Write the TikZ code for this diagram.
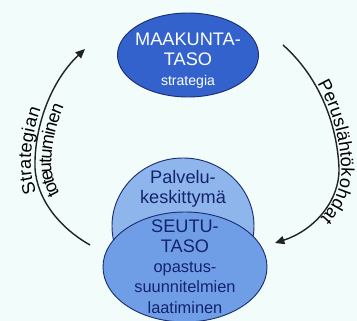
\documentclass[tikz,border=0pt]{standalone}
\usepackage{fontspec}
\setmainfont{Liberation Sans}
\usepackage{tikz}
\usetikzlibrary{shapes.geometric, arrows.meta, positioning, decorations.text}
\usepackage{xcolor}

\definecolor{bgcol}{HTML}{F2FCFA}
\definecolor{topfill}{HTML}{3362CC}
\definecolor{edgecol}{HTML}{1C2F72}
\definecolor{palfill}{HTML}{8FB6EC}
\definecolor{seufill}{HTML}{6F9EE6}
\definecolor{navytext}{HTML}{14236E}
\definecolor{arccol}{HTML}{222222}

\newcommand\capsfont{\fontsize{15.5}{17.2}\selectfont}
\newcommand\smallfont{\fontsize{14}{17.2}\selectfont}
\newcommand\arcfont{\fontsize{15.5}{18}\selectfont}

\begin{document}
\begin{tikzpicture}[
    x=0.03cm, y=-0.03cm,
    % Node styles
    level/.style={ellipse, draw=edgecol, line width=0.8pt, inner sep=0pt},
    toplevel/.style={level, fill=topfill, minimum width=4.23cm, minimum height=2.52cm},
    centre/.style={level, fill=palfill, minimum width=4.26cm, minimum height=4.08cm},
    region/.style={level, fill=seufill, minimum width=4.92cm, minimum height=3.30cm},
    leveltext/.style={align=center, inner sep=0pt, text=navytext, font=\capsfont},
    arc/.style={line width=1.2pt, draw=arccol, -{Triangle[length=8pt, width=7pt]}},
]

% background
\fill[bgcol] (0,0) rectangle (357,321);
\useasboundingbox (0,0) rectangle (357,321);

% ============================================================================
% LEVELS
% ============================================================================
\node[toplevel] (maakunta) at (188,55) {};
\node[leveltext, text=white] (maakuntatxt) at (188,61) {MAAKUNTA-\\TASO\\\fontsize{12}{17.2}\selectfont strategia};

\node[centre] (palvelu) at (183,226) {};
\node[leveltext] (palvelutxt) at (183,188.5) {Palvelu-\\keskittymä};

\node[region] (seutu) at (185,267) {};
\node[leveltext] (seututxt) at (185,266.5) {SEUTU-\\TASO\\\smallfont opastus-\\\smallfont suunnitelmien\\\smallfont laatiminen};

% ============================================================================
% ARCS
% ============================================================================
\coordinate (lfoot) at (90,245);
\coordinate (lwest) at (35,168);
\coordinate (ltip) at (85,49);
\coordinate (rtop) at (283,45);
\coordinate (reast) at (339,168);
\coordinate (rtip) at (275,243);

% Strategian toteutuminen (upwards)
\draw[arc] (lfoot) .. controls (60,228) and (37,200) .. (lwest) .. controls (34,125) and (52,80) .. (ltip);
\path[decorate, decoration={text along path, text align=center, raise=3.5pt, text={|\arcfont|Strategian}}]
    (lfoot) .. controls (60,228) and (37,200) .. (lwest) .. controls (34,125) and (52,80) .. (ltip);
\path[decorate, decoration={text along path, text align=center, raise=-14pt, text={|\arcfont|toteutuminen}}]
    (lfoot) .. controls (60,228) and (37,200) .. (lwest) .. controls (34,125) and (52,80) .. (ltip);

% Peruslähtökohdat (downwards)
\draw[arc] (rtop) .. controls (318,76) and (337,122) .. (reast) .. controls (340,200) and (315,230) .. (rtip);
\path[decorate, decoration={text along path, text align=center, raise=2pt, text={|\arcfont|Peruslähtökohdat}}]
    (rtop) .. controls (318,76) and (337,122) .. (reast) .. controls (340,200) and (315,230) .. (rtip);

\end{tikzpicture}
\end{document}
